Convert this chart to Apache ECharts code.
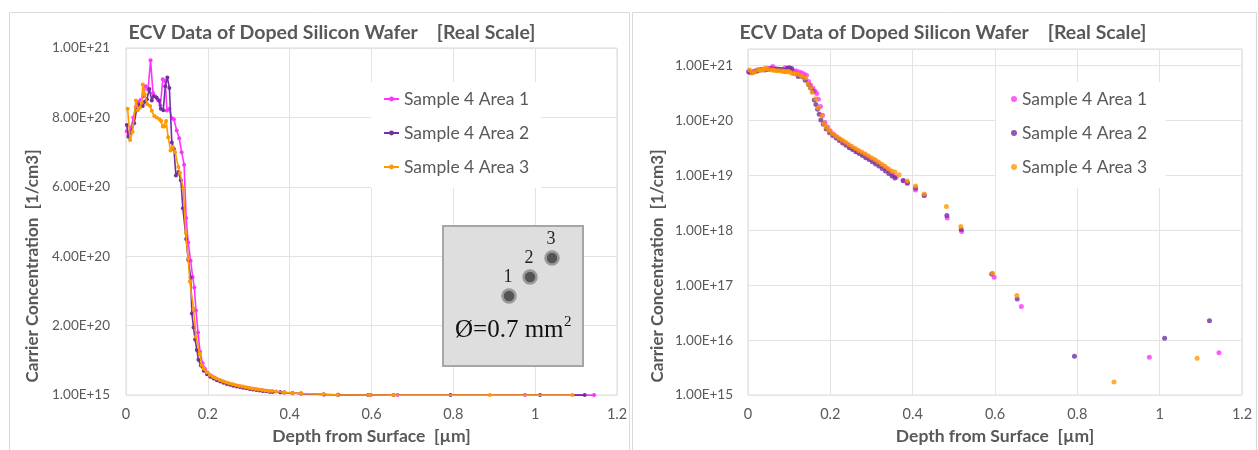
<!DOCTYPE html>
<html>
<head>
<meta charset="utf-8">
<script src="https://cdn.jsdelivr.net/npm/echarts@6/dist/echarts.min.js"></script>
<style>
html,body{margin:0;padding:0;background:#fff;}
#c{width:1258px;height:450px;}
</style>
</head>
<body>
<div id="c"></div>
<script>
// ---- Data (depth in µm, carrier concentration in 1/cm3) ----
const seriesNames = ['Sample 4 Area 1', 'Sample 4 Area 2', 'Sample 4 Area 3'];
const seriesColors = ['#ff33ff', '#7030a0', '#ff9900'];

const depthArea1 = [0.002,0.006,0.012,0.018,0.024,0.030,0.036,0.042,0.048,0.054,0.060,0.066,0.072,0.078,0.084,0.090,0.096,0.100,0.106,0.112,0.117,0.124,0.130,0.136,0.142,0.147,0.152,0.158,0.163,0.167,0.171,0.176,0.181,0.187,0.193,0.200,0.208,0.216,0.224,0.232,0.240,0.248,0.256,0.264,0.272,0.280,0.288,0.296,0.304,0.312,0.320,0.328,0.336,0.344,0.352,0.360,0.377,0.387,0.407,0.428,0.484,0.519,0.598,0.664,0.975,1.144];
const concArea1 = [7.6e20,7.5e20,7.7e20,8.0e20,8.3e20,8.45e20,8.5e20,8.6e20,8.9e20,8.8e20,9.65e20,8.7e20,8.6e20,8.5e20,8.35e20,9.1e20,9.05e20,8.2e20,8.25e20,7.98e20,7.95e20,7.62e20,7.4e20,7.0e20,6.64e20,5.1e20,4.4e20,3.87e20,3.4e20,3.1e20,2.44e20,1.8e20,1.25e20,9.2e19,7.6e19,6.4e19,5.6e19,5.0e19,4.5e19,4.1e19,3.75e19,3.4e19,3.1e19,2.85e19,2.65e19,2.45e19,2.25e19,2.08e19,1.92e19,1.78e19,1.62e19,1.48e19,1.33e19,1.2e19,1.05e19,9.3e18,8.0e18,7.4e18,5.4e18,4.4e18,1.68e18,9.5e17,1.4e17,4.1e16,4.9e15,5.9e15];

const depthArea2 = [0.002,0.006,0.013,0.020,0.026,0.033,0.041,0.046,0.051,0.057,0.063,0.068,0.075,0.081,0.085,0.091,0.096,0.101,0.106,0.112,0.117,0.122,0.128,0.134,0.139,0.147,0.152,0.158,0.161,0.165,0.169,0.173,0.177,0.183,0.190,0.198,0.206,0.214,0.222,0.230,0.238,0.246,0.254,0.262,0.270,0.278,0.286,0.294,0.302,0.310,0.318,0.326,0.334,0.342,0.350,0.357,0.377,0.387,0.407,0.428,0.483,0.518,0.592,0.654,0.793,1.012,1.121];
const concArea2 = [7.78e20,7.44e20,7.6e20,7.83e20,8.23e20,8.38e20,8.33e20,8.45e20,8.52e20,8.82e20,8.49e20,8.61e20,8.57e20,8.49e20,8.25e20,8.21e20,8.9e20,9.15e20,8.85e20,7.28e20,7.09e20,6.33e20,6.43e20,6.19e20,5.38e20,4.5e20,3.9e20,3.39e20,2.35e20,1.95e20,1.6e20,1.3e20,1.02e20,8.5e19,7.0e19,6.0e19,5.3e19,4.8e19,4.3e19,3.9e19,3.55e19,3.2e19,2.95e19,2.7e19,2.5e19,2.3e19,2.1e19,1.95e19,1.78e19,1.62e19,1.48e19,1.34e19,1.2e19,1.08e19,9.7e18,9.0e18,8.1e18,7.2e18,5.9e18,4.3e18,1.87e18,1.03e18,1.6e17,5.6e16,5.1e15,1.08e16,2.26e16];

const depthArea3 = [0.004,0.010,0.016,0.024,0.029,0.034,0.038,0.041,0.046,0.052,0.059,0.063,0.069,0.075,0.082,0.086,0.090,0.094,0.098,0.103,0.109,0.114,0.120,0.128,0.132,0.140,0.146,0.152,0.156,0.165,0.171,0.180,0.185,0.190,0.197,0.205,0.213,0.221,0.229,0.237,0.245,0.253,0.261,0.269,0.277,0.285,0.293,0.301,0.309,0.317,0.325,0.333,0.341,0.349,0.357,0.367,0.387,0.407,0.428,0.482,0.517,0.594,0.653,0.889,1.091];
const concArea3 = [8.25e20,7.35e20,7.59e20,8.49e20,8.21e20,8.28e20,8.42e20,8.95e20,8.66e20,8.38e20,8.33e20,8.19e20,8.04e20,8.0e20,7.95e20,7.9e20,7.74e20,7.74e20,7.9e20,7.43e20,7.05e20,7.15e20,7.0e20,6.57e20,6.4e20,5.95e20,4.67e20,3.93e20,3.27e20,2.49e20,1.68e20,1.2e20,8.7e19,7.6e19,6.6e19,5.8e19,5.2e19,4.75e19,4.35e19,4.0e19,3.65e19,3.35e19,3.1e19,2.85e19,2.65e19,2.45e19,2.25e19,2.08e19,1.92e19,1.76e19,1.6e19,1.46e19,1.32e19,1.2e19,1.15e19,1.03e19,7.9e18,6.4e18,4.6e18,2.7e18,1.17e18,1.65e17,6.5e16,1.73e15,4.7e15];

const leftYTickLabels = ['1.00E+15','2.00E+20','4.00E+20','6.00E+20','8.00E+20','1.00E+21'];
const xTickLabels = ['0','0.2','0.4','0.6','0.8','1','1.2'];
const chartTitle = 'ECV Data of Doped Silicon Wafer    [Real Scale]';
const xAxisTitle = 'Depth from Surface  [µm]';
const yAxisTitle = 'Carrier Concentration  [1/cm3]';

// ---- Build ----
const depths = [depthArea1, depthArea2, depthArea3];
const concs = [concArea1, concArea2, concArea3];
const pairs = depths.map((d, i) => d.map((x, j) => [x, concs[i][j]]));

const FONT = 'Lato, "Open Sans", sans-serif';
const TXT = '#595959';
const GRID = '#e3e3e3';
const BORDER = '#d9d9d9';

const xAxisCommon = {
  type: 'value', min: 0, max: 1.2, interval: 0.2,
  axisLine: {show: false}, axisTick: {show: false},
  splitLine: {lineStyle: {color: GRID}},
  axisLabel: {color: TXT, fontFamily: FONT, fontSize: 14.5, margin: 12,
    formatter: v => xTickLabels[Math.round(v / 0.2)]},
  name: xAxisTitle, nameLocation: 'middle', nameGap: 29,
  nameTextStyle: {color: TXT, fontFamily: FONT, fontSize: 17.5, fontWeight: 'bold'}
};

const option = {
  animation: false,
  textStyle: {fontFamily: FONT},
  grid: [
    {left: 126, top: 48, width: 491, height: 351, show: true, borderColor: BORDER, borderWidth: 1, backgroundColor: 'transparent'},
    {left: 748, top: 49, width: 494, height: 351, show: true, borderColor: BORDER, borderWidth: 1, backgroundColor: 'transparent'}
  ],
  xAxis: [
    Object.assign({gridIndex: 0}, xAxisCommon),
    Object.assign({gridIndex: 1}, xAxisCommon)
  ],
  yAxis: [
    {gridIndex: 0, type: 'value', min: 0, max: 1e21, interval: 2e20,
      axisLine: {show: false}, axisTick: {show: false},
      splitLine: {lineStyle: {color: GRID}},
      axisLabel: {color: TXT, fontFamily: FONT, fontSize: 13.5, margin: 16,
        formatter: v => leftYTickLabels[Math.round(v / 2e20)]}},
    {gridIndex: 1, type: 'log', logBase: 10, min: 1e15, max: 2e21,
      axisLine: {show: false}, axisTick: {show: false},
      splitLine: {lineStyle: {color: GRID}},
      axisLabel: {color: TXT, fontFamily: FONT, fontSize: 13.5, margin: 15, showMaxLabel: false,
        formatter: v => v > 1.5e21 ? '' : Number(v).toExponential(2).toUpperCase()}}
  ],
  legend: [
    {data: seriesNames, orient: 'vertical', left: 371, top: 82,
      padding: [8, 12, 12, 12], itemGap: 16, itemWidth: 15, itemHeight: 6,
      backgroundColor: '#fff',
      textStyle: {color: TXT, fontFamily: FONT, fontSize: 17.5, lineHeight: 18}},
    {data: seriesNames.map(n => ({name: n + ' '})), orient: 'vertical', left: 996, top: 82,
      padding: [8, 14, 12, 15], itemGap: 16, itemWidth: 6, itemHeight: 6, icon: 'circle',
      backgroundColor: '#fff',
      textStyle: {color: TXT, fontFamily: FONT, fontSize: 17.5, lineHeight: 18}}
  ],
  series: [],
  graphic: {elements: []}
};

// left: lines with markers, right: scatter markers only
pairs.forEach((data, i) => {
  option.series.push({
    name: seriesNames[i], type: 'line', xAxisIndex: 0, yAxisIndex: 0,
    data: data, color: seriesColors[i], symbol: 'circle', symbolSize: 4,
    showSymbol: true, lineStyle: {width: 1.6, color: seriesColors[i]},
    itemStyle: {color: seriesColors[i]}, z: 2 + i
  });
});
pairs.forEach((data, i) => {
  option.series.push({
    name: seriesNames[i] + ' ', type: 'scatter', xAxisIndex: 1, yAxisIndex: 1,
    data: data, color: seriesColors[i], symbol: 'circle', symbolSize: 5,
    itemStyle: {color: seriesColors[i]}, z: 2 + i
  });
});

const g = option.graphic.elements;
// panel borders
g.push({type: 'rect', shape: {x: 9.5, y: 12.5, width: 620, height: 460}, style: {fill: 'none', stroke: BORDER, lineWidth: 1}, z: -1, silent: true});
g.push({type: 'rect', shape: {x: 632.5, y: 12.5, width: 624, height: 460}, style: {fill: 'none', stroke: BORDER, lineWidth: 1}, z: -1, silent: true});
// titles
g.push({type: 'text', x: 332, y: 33, style: {text: chartTitle, font: 'bold 19.5px ' + FONT, fill: TXT, align: 'center', verticalAlign: 'middle'}});
g.push({type: 'text', x: 943, y: 33, style: {text: chartTitle, font: 'bold 19.5px ' + FONT, fill: TXT, align: 'center', verticalAlign: 'middle'}});
// y axis titles
g.push({type: 'text', x: 33, y: 266, rotation: Math.PI / 2, style: {text: yAxisTitle, font: 'bold 17px ' + FONT, fill: TXT, align: 'center', verticalAlign: 'middle'}});
g.push({type: 'text', x: 658, y: 266, rotation: Math.PI / 2, style: {text: yAxisTitle, font: 'bold 17px ' + FONT, fill: TXT, align: 'center', verticalAlign: 'middle'}});
// inset
g.push({type: 'rect', z: 100, shape: {x: 443, y: 226, width: 140, height: 140}, style: {fill: '#dedede', stroke: '#a6a6a6', lineWidth: 2}});
const dots = [[509, 296, '1'], [530, 277, '2'], [552, 258, '3']];
dots.forEach(d => {
  g.push({type: 'circle', z: 101, shape: {cx: d[0], cy: d[1], r: 6.5}, style: {fill: '#555555', stroke: '#9a9a9a', lineWidth: 2.5}});
  g.push({type: 'text', z: 101, x: d[0] - 1, y: d[1] - 19, style: {text: d[2], font: '18px "Liberation Serif", serif', fill: '#222', align: 'center', verticalAlign: 'middle'}});
});
g.push({type: 'text', z: 101, x: 455, y: 330, style: {text: 'Ø=0.7 mm', font: '25px "Liberation Serif", serif', fill: '#111', align: 'left', verticalAlign: 'middle'}});
g.push({type: 'text', z: 101, x: 564, y: 322, style: {text: '2', font: '15px "Liberation Serif", serif', fill: '#111', align: 'left', verticalAlign: 'middle'}});

const chart = echarts.init(document.getElementById('c'), null, {renderer: 'canvas'});
chart.setOption(option);
</script>
</body>
</html>
